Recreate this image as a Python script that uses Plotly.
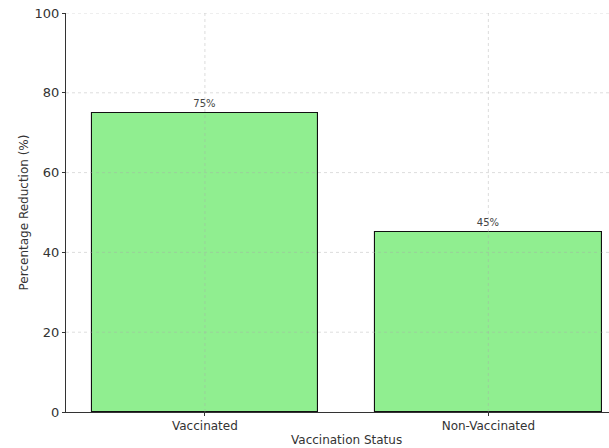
import plotly.graph_objects as go

# Survey results: reduction in symptom severity by vaccination status
categories = ["Vaccinated", "Non-Vaccinated"]
reduction = [75, 45]
y_ticks = [0, 20, 40, 60, 80, 100]

fig = go.Figure()
fig.add_trace(go.Bar(
    x=list(range(len(categories))),
    y=reduction,
    width=0.8,
    marker=dict(color="#90EE90", line=dict(color="#111111", width=1.1)),
    text=[f"{v}%" for v in reduction],
    textposition="outside",
    textfont=dict(family="DejaVu Sans", size=10, color="#444444"),
    cliponaxis=False,
    showlegend=False,
))

# dotted grid drawn over the bars
grid = dict(color="rgba(170,170,170,0.5)", width=0.8, dash="dot")
shapes = []
for t in y_ticks[1:]:
    shapes.append(dict(type="line", xref="paper", yref="y", x0=0, x1=1, y0=t, y1=t,
                       line=grid, layer="above"))
for i in range(len(categories)):
    shapes.append(dict(type="line", xref="x", yref="paper", x0=i, x1=i, y0=0, y1=1,
                       line=grid, layer="above"))

fig.update_layout(
    width=609, height=448,
    margin=dict(l=66, r=0, t=13, b=36),
    paper_bgcolor="white", plot_bgcolor="white",
    font=dict(family="DejaVu Sans", size=12, color="#333333"),
    bargap=0,
    shapes=shapes,
    annotations=[dict(text="Vaccination Status", xref="paper", yref="paper",
                      x=0.517, y=0, yshift=-19, yanchor="top", showarrow=False,
                      font=dict(family="DejaVu Sans", size=12, color="#333333"))],
)
fig.update_xaxes(
    range=[-0.49, 1.4256],
    tickvals=list(range(len(categories))), ticktext=categories,
    showgrid=False, zeroline=False,
    showline=True, linecolor="#333333", linewidth=1,
    ticks="outside", ticklen=3, tickcolor="#333333",
    tickfont=dict(size=12, color="#333333"),
)
fig.update_yaxes(
    range=[0, 100], tickvals=y_ticks,
    showgrid=False, zeroline=False,
    showline=True, linecolor="#333333", linewidth=1,
    ticks="outside", ticklen=3, tickcolor="#333333",
    tickfont=dict(size=13, color="#333333"),
    title=dict(text="Percentage Reduction (%)", standoff=3,
               font=dict(family="DejaVu Sans", size=12, color="#333333")),
)

fig.write_html("out.html")
